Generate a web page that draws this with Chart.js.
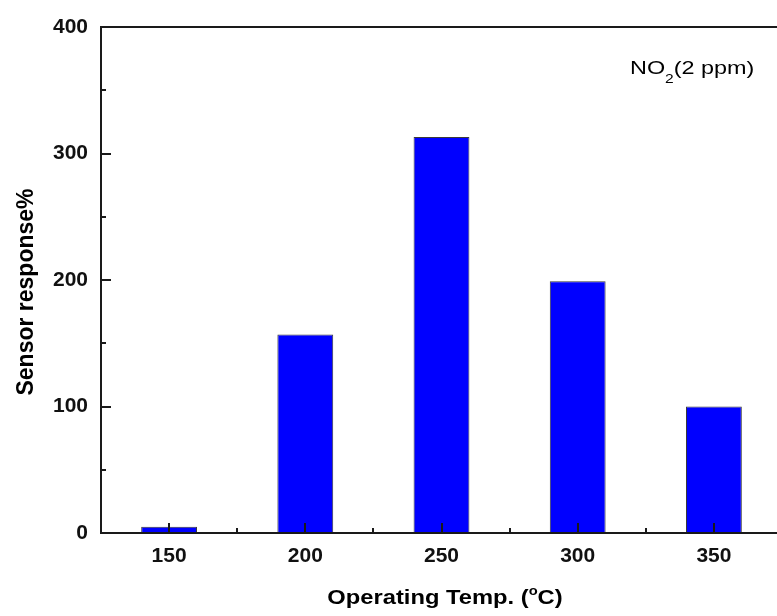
<!DOCTYPE html>
<html>
<head>
<meta charset="utf-8">
<script src="https://cdn.jsdelivr.net/npm/chart.js@4.4.1/dist/chart.umd.min.js"></script>
<style>
  html, body { margin: 0; padding: 0; background: #fff; overflow: hidden; }
  #wrap { position: relative; width: 800px; height: 616px; }
</style>
</head>
<body>
<div id="wrap"><canvas id="c"></canvas></div>
<script>
// Operating temperatures (°C) and the NO2 sensor response measured at each
const temperatures = [150, 200, 250, 300, 350];
const responses = [5, 157, 313, 199, 100];
const yTickValues = [0, 100, 200, 300, 400];
const xTickValues = [150, 200, 250, 300, 350];

const FONT = "Arial, 'Liberation Sans', Helvetica, sans-serif";
const AXIS_COLOR = '#1a1a1a';

// Draws a run of [text, font, dy] pieces left to right, stretched horizontally by sx
function drawRuns(ctx, runs, x, y, sx, align) {
  ctx.save();
  let total = 0;
  runs.forEach(r => { ctx.font = r[1]; total += ctx.measureText(r[0]).width; });
  let start = align === 'center' ? -total / 2 : 0;
  ctx.translate(x, y);
  ctx.scale(sx, 1);
  ctx.textAlign = 'left';
  ctx.textBaseline = 'alphabetic';
  runs.forEach(r => {
    ctx.font = r[1];
    ctx.fillText(r[0], start, r[2] || 0);
    start += ctx.measureText(r[0]).width;
  });
  ctx.restore();
}

// Frame, inward major/minor ticks and the text annotations
const framePlugin = {
  id: 'frame',
  afterDatasetsDraw(chart) {
    const { ctx, chartArea: a, scales } = chart;
    const xs = scales.x, ys = scales.y;
    ctx.save();
    ctx.strokeStyle = AXIS_COLOR;
    ctx.lineWidth = 2;
    ctx.beginPath();
    ctx.moveTo(a.left, a.top); ctx.lineTo(a.right, a.top);
    ctx.lineTo(a.right, a.bottom); ctx.lineTo(a.left, a.bottom);
    ctx.closePath();
    ctx.stroke();

    ctx.beginPath();
    xs.ticks.forEach(t => {
      if (t.value <= xs.min || t.value >= xs.max) return;
      const px = Math.round(xs.getPixelForValue(t.value));
      const len = xTickValues.includes(t.value) ? 10 : 5;
      ctx.moveTo(px, a.bottom); ctx.lineTo(px, a.bottom - len);
    });
    ys.ticks.forEach(t => {
      if (t.value <= ys.min || t.value >= ys.max) return;
      const py = Math.round(ys.getPixelForValue(t.value));
      const len = yTickValues.includes(t.value) ? 10 : 5;
      ctx.moveTo(a.left, py); ctx.lineTo(a.left + len, py);
    });
    ctx.stroke();

    ctx.fillStyle = '#000';
    // x-axis title with superscript degree mark
    drawRuns(ctx, [
      ['Operating Temp. (', `bold 21px ${FONT}`],
      ['o', `bold 13px ${FONT}`, -9],
      ['C)', `bold 21px ${FONT}`]
    ], 445, 604, 1.13, 'center');

    // y-axis title
    ctx.save();
    ctx.translate(33, 292);
    ctx.rotate(-Math.PI / 2);
    ctx.textAlign = 'center';
    ctx.textBaseline = 'alphabetic';
    ctx.font = `bold 23px ${FONT}`;
    ctx.fillText('Sensor response%', 0, 0);
    ctx.restore();

    // gas / concentration note
    drawRuns(ctx, [
      ['NO', `18px ${FONT}`],
      ['2', `12px ${FONT}`, 9],
      ['(2 ppm)', `18px ${FONT}`]
    ], 630, 74, 1.3, 'left');
    ctx.restore();
  }
};

new Chart(document.getElementById('c'), {
  type: 'bar',
  data: {
    datasets: [{
      data: temperatures.map((t, i) => ({ x: t, y: responses[i] })),
      backgroundColor: '#0000ff',
      borderColor: '#3a3a3a',
      borderWidth: 1,
      borderSkipped: 'bottom',
      categoryPercentage: 1,
      barPercentage: 0.82
    }]
  },
  options: {
    responsive: true,
    maintainAspectRatio: false,
    animation: false,
    layout: { padding: { top: 27, right: 18, left: 0, bottom: 0 } },
    plugins: { legend: { display: false }, tooltip: { enabled: false } },
    scales: {
      x: {
        type: 'linear',
        offset: false,
        min: 125,
        max: 375,
        grid: { display: false, drawTicks: false, offset: false },
        border: { display: false },
        ticks: {
          stepSize: 25,
          padding: 11,
          color: '#111',
          font: { family: FONT, size: 21, weight: 'bold' },
          callback: v => (xTickValues.includes(v) ? String(v) : '')
        },
        afterFit: s => { s.height = 83; }
      },
      y: {
        min: 0,
        max: 400,
        grid: { display: false, drawTicks: false },
        border: { display: false },
        ticks: {
          stepSize: 50,
          padding: 13,
          color: '#111',
          font: { family: FONT, size: 21, weight: 'bold' },
          callback: v => (yTickValues.includes(v) ? String(v) : '')
        },
        afterFit: s => { s.width = 101; }
      }
    }
  },
  plugins: [framePlugin]
});
</script>
</body>
</html>
